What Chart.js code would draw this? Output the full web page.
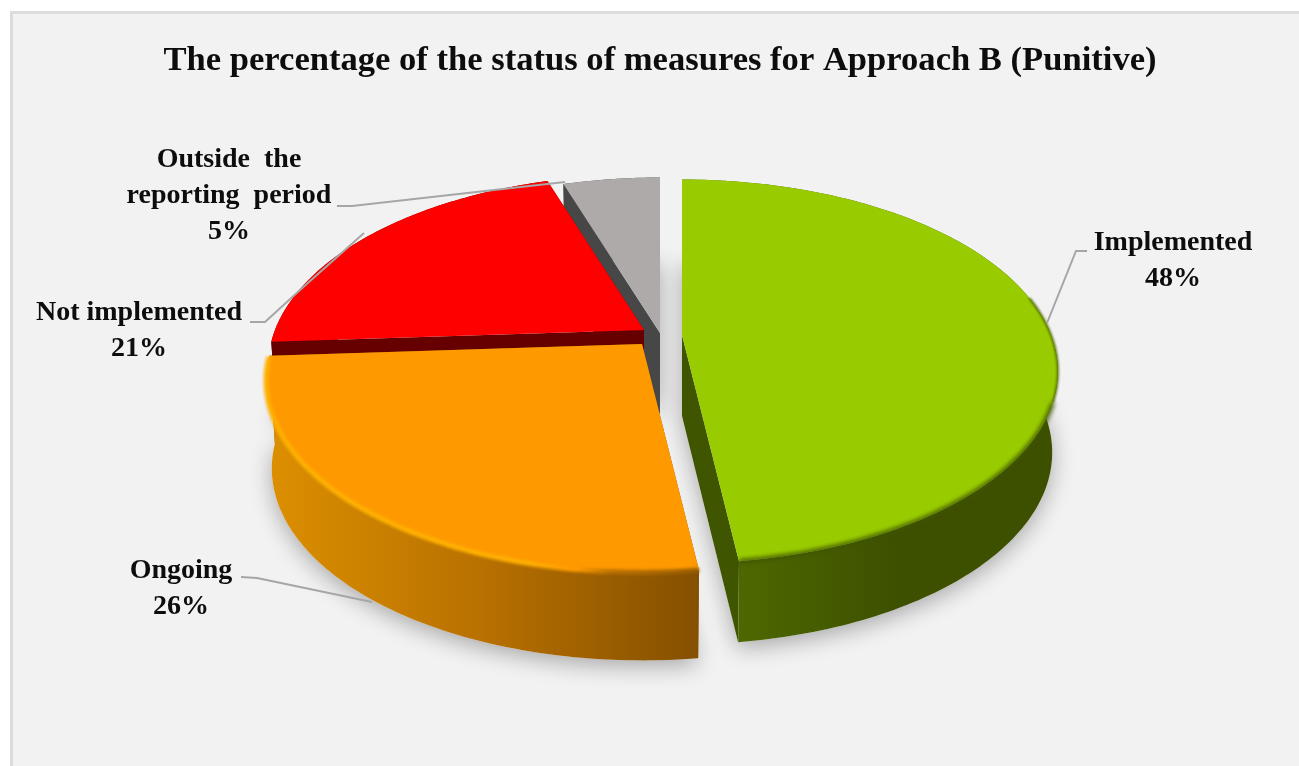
<!DOCTYPE html>
<html>
<head>
<meta charset="utf-8">
<title>Approach B</title>
<script src="https://cdn.jsdelivr.net/npm/chart.js@4"></script>
<style>
html, body { margin: 0; padding: 0; background: #fff; }
canvas { display: block; }
</style>
</head>
<body>
<canvas id="pieChart" width="1299" height="766"></canvas>
<script>
const categories = ['Implemented', 'Ongoing', 'Not implemented', 'Outside the reporting period'];
const percentages = [48, 26, 21, 5];
const chartTitle = 'The percentage of the status of measures for Approach B (Punitive)';

const faceColors = ['#99cc00', '#ff9900', '#ff0000', '#aeaaaa'];
const sideColors = ['#3f5500', '#8a5400', '#660000', '#474747'];

// label text is split the way the original wraps it
const labelLines = [['Implemented'], ['Ongoing'], ['Not implemented'], ['Outside  the', 'reporting  period']];
const labelSpots = [[1173, 250], [181, 578], [139, 320], [229, 167]];
const leaderLines = [
    [[1047, 323], [1076, 251], [1087, 251]],
    [[241, 577], [257, 578], [372, 602]],
    [[250, 322], [265, 322], [300, 290], [364, 233]],
    [[337, 206], [352, 206], [565, 182]]
];

// where each slice's apex sits on the page, back slices are pulled apart like the 3D original
const apexes = [[682, 335], [642, 344], [644, 330], [660, 333]];
const depths = [81, 88, 81, 81];
const RX = 369, RY = 185, TILT = 0.19, BOTTOM_SCALE = 0.985;
const rad = d => d * Math.PI / 180;

function project(i, angle, down) {
    const u = Math.cos(angle), v = Math.sin(angle), w = 1 - TILT * v;
    const s = down ? BOTTOM_SCALE : 1;
    return [apexes[i][0] + s * RX * u / w, apexes[i][1] + (down ? depths[i] : 0) + RY * v / w];
}

function arcPoints(i, from, to, down) {
    const steps = Math.max(2, Math.ceil(Math.abs(to - from) / rad(1)));
    const pts = [];
    for (let n = 0; n <= steps; n++) pts.push(project(i, from + (to - from) * n / steps, down));
    return pts;
}

function fillPoly(ctx, pts, color) {
    ctx.beginPath();
    pts.forEach((p, n) => n ? ctx.lineTo(p[0], p[1]) : ctx.moveTo(p[0], p[1]));
    ctx.closePath();
    ctx.fillStyle = color;
    ctx.fill();
}

function strokeRim(ctx, i, from, to, color, width, blur) {
    const pts = arcPoints(i, rad(from), rad(to), false);
    ctx.save();
    ctx.filter = `blur(${blur}px)`;
    ctx.beginPath();
    pts.forEach((p, n) => n ? ctx.lineTo(p[0], p[1]) : ctx.moveTo(p[0], p[1]));
    ctx.strokeStyle = color;
    ctx.lineWidth = width;
    ctx.stroke();
    ctx.restore();
}

function xGradient(ctx, x0, x1, stops) {
    const g = ctx.createLinearGradient(x0, 0, x1, 0);
    stops.forEach(s => g.addColorStop(s[0], s[1]));
    return g;
}

function sideGradient(ctx, i) {
    if (i === 1) return xGradient(ctx, 270, 696, [[0, '#dc8f00'], [0.5, '#b87000'], [1, '#855000']]);
    if (i === 0) return xGradient(ctx, 742, 1050, [[0, '#4d6800'], [0.5, '#3d5000'], [1, '#3d5000']]);
    return sideColors[i];
}

const pie3d = {
    id: 'pie3d',
    beforeDraw(chart) {
        const ctx = chart.ctx;
        ctx.save();
        ctx.fillStyle = '#ffffff';
        ctx.fillRect(0, 0, chart.width, chart.height);
        ctx.fillStyle = '#dcdcdc';
        ctx.fillRect(10, 11, chart.width - 10, chart.height - 11);
        ctx.fillStyle = '#f2f2f2';
        ctx.fillRect(13, 14, chart.width - 13, chart.height - 14);
        ctx.restore();
    },
    // the arcs are circles in the library, tilt them here using the angles it worked out
    beforeDatasetsDraw(chart) {
        const ctx = chart.ctx;
        const arcs = chart.getDatasetMeta(0).data;
        const spans = arcs.map(a => {
            const p = a.getProps(['startAngle', 'endAngle'], true);
            return [p.startAngle, p.endAngle];
        });

        ctx.save();
        // soft shadow on the floor
        ctx.shadowColor = 'rgba(0,0,0,0.3)';
        ctx.shadowBlur = 22;
        ctx.shadowOffsetY = 6;
        spans.forEach((s, i) => {
            fillPoly(ctx, [[apexes[i][0], apexes[i][1] + depths[i]]].concat(arcPoints(i, s[0], s[1], true)), '#f2f2f2');
        });
        ctx.restore();

        [3, 2, 1, 0].forEach(i => {
            const [a0, a1] = spans[i];
            const top = [apexes[i][0], apexes[i][1]];
            const bottom = [apexes[i][0], apexes[i][1] + depths[i]];
            fillPoly(ctx, [top, project(i, a0, false), project(i, a0, true), bottom], sideColors[i]);
            fillPoly(ctx, [top, project(i, a1, false), project(i, a1, true), bottom], sideColors[i]);
            fillPoly(ctx, arcPoints(i, a0, a1, false).concat(arcPoints(i, a1, a0, true)), sideGradient(ctx, i));
            fillPoly(ctx, [top].concat(arcPoints(i, a0, a1, false)), faceColors[i]);
        });

        // bevel along the rim
        strokeRim(ctx, 0, -12, 20, '#4d6800', 2, 1);
        strokeRim(ctx, 0, 20, 82.8, '#3f5500', 4, 2);
        strokeRim(ctx, 1, 82.8, 176, xGradient(ctx, 270, 696,
            [[0, '#ffb000'], [0.6, '#ffb000'], [0.72, '#ff9900'], [0.8, '#b87000'], [1, '#9a5e00']]), 5, 1.5);
        return false;
    },
    afterDraw(chart) {
        const ctx = chart.ctx;
        ctx.save();
        ctx.strokeStyle = '#a6a6a6';
        ctx.lineWidth = 2;
        leaderLines.forEach(line => {
            ctx.beginPath();
            line.forEach((p, n) => n ? ctx.lineTo(p[0], p[1]) : ctx.moveTo(p[0], p[1]));
            ctx.stroke();
        });
        ctx.fillStyle = '#0d0d0d';
        ctx.font = 'bold 28px "Liberation Serif"';
        ctx.textAlign = 'center';
        labelLines.forEach((lines, i) => {
            const [x, y] = labelSpots[i];
            lines.concat(percentages[i] + '%').forEach((t, n) => ctx.fillText(t, x, y + n * 36));
        });
        ctx.restore();
    }
};

new Chart(document.getElementById('pieChart'), {
    type: 'pie',
    data: {
        labels: categories,
        datasets: [{ data: percentages, backgroundColor: faceColors, borderWidth: 0 }]
    },
    plugins: [pie3d],
    options: {
        responsive: false,
        animation: false,
        layout: { padding: { left: 21, top: 30 } },
        plugins: {
            legend: { display: false },
            title: {
                display: true,
                text: chartTitle,
                color: '#0d0d0d',
                font: { family: '"Liberation Serif"', size: 34.6, weight: 'bold' },
                padding: { top: 10, bottom: 20 }
            }
        }
    }
});
</script>
</body>
</html>
